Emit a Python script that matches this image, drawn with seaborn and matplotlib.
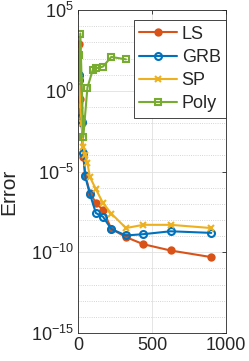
import numpy as np
import pandas as pd
import matplotlib
matplotlib.use("Agg")
import matplotlib.pyplot as plt
import seaborn as sns
from matplotlib.ticker import FixedLocator, NullFormatter

# Data (log10 of error)
ls_x = [4, 9, 16, 25, 36, 49, 81, 121, 169, 225, 324, 441, 625, 900]
ls_log = [2.9, 1.0, -0.5, -2.0, -4.07, -5.2, -6.3, -6.95, -7.37, -8.55, -9.06, -9.5, -9.89, -10.3]

grb_x = [4, 9, 16, 25, 36, 49, 81, 121, 169, 225, 324, 441, 625, 900]
grb_log = [1.0, 0.68, -1.67, -1.9, -3.86, -5.3, -6.4, -7.57, -7.8, -8.56, -8.96, -8.88, -8.7, -8.8]

sp_x = [4, 9, 16, 25, 36, 49, 64, 81, 121, 169, 225, 324, 441, 625, 900]
sp_log = [2.5, 0.8, -0.97, -2.0, -3.45, -4.0, -4.48, -5.34, -6.09, -6.95, -7.6, -8.5, -8.3, -8.3, -8.5]

poly_x = [4, 9, 16, 36, 64, 100, 121, 169, 225, 324]
poly_log = [2.2, 0.6, 3.55, -2.87, 0.2, 1.3, 1.4, 1.5, 2.1, 1.95]

labels = ["LS", "GRB", "SP", "Poly"]

sns.set_style("white")
plt.rcParams['font.family'] = ['Liberation Sans', 'DejaVu Sans']
plt.rcParams['mathtext.fontset'] = 'custom'
plt.rcParams['mathtext.rm'] = 'Liberation Sans'
plt.rcParams['mathtext.it'] = 'Liberation Sans:italic'
plt.rcParams['mathtext.bf'] = 'Liberation Sans:bold'

fig = plt.figure(figsize=(2.49, 3.61), dpi=100)
ax = fig.add_axes([0.313, 0.0776, 0.595, 0.8944])

colors = [(0.85, 0.325, 0.098), (0, 0.447, 0.741), (0.929, 0.694, 0.125), (0.466, 0.674, 0.188)]
series = [(ls_x, ls_log), (grb_x, grb_log), (sp_x, sp_log), (poly_x, poly_log)]
markers = ['o', 'o', 'x', 's']
mfc = [colors[0], 'none', colors[2], 'none']
msz = [4.5, 5, 5, 5]

for (xs, ys), lab, c, m, fc, ms in zip(series, labels, colors, markers, mfc, msz):
    df = pd.DataFrame({"x": xs, "y": np.power(10.0, ys)})
    sns.lineplot(data=df, x="x", y="y", ax=ax, color=c, marker=m, markersize=ms,
                 markerfacecolor=fc, markeredgecolor=c, markeredgewidth=1.5,
                 linewidth=1.5, label=lab, sort=False, estimator=None)

ax.set_yscale('log')
ax.set_xlim(0, 1000)
ax.set_ylim(1e-15, 1e5)
ax.xaxis.set_major_locator(FixedLocator([0, 500, 1000]))
ax.yaxis.set_major_locator(FixedLocator([1e-15, 1e-10, 1e-5, 1e0, 1e5]))
ax.yaxis.set_minor_locator(FixedLocator([10.0**k for k in range(-15, 6) if k % 5 != 0]))
ax.yaxis.set_minor_formatter(NullFormatter())
ax.grid(True, which='major', color='#e0e0e0', linewidth=0.6, linestyle='-')
ax.grid(True, which='minor', axis='y', color='#c8c8c8', linewidth=0.6, linestyle=':')
ax.set_axisbelow(True)

ax.tick_params(axis='both', which='major', direction='in', length=3, labelsize=13,
               top=True, right=True, colors='#262626', width=0.6, pad=3)
ax.tick_params(axis='y', which='minor', direction='in', length=0)
for sp in ax.spines.values():
    sp.set_color('#262626')
    sp.set_linewidth(0.6)
    sp.set_visible(True)
ax.set_xlabel("")
ax.set_ylabel("Error", fontsize=15, color='#262626')
ax.yaxis.set_label_coords(-0.40, 0.437)

leg = ax.legend(loc='upper right', bbox_to_anchor=(1.0, 0.969), fontsize=13, frameon=True,
                fancybox=False, edgecolor='#262626', framealpha=1, borderaxespad=0,
                handlelength=2.1, handletextpad=0.25, borderpad=0.3, labelspacing=0.35)
leg.get_frame().set_linewidth(0.6)

fig.savefig("out.png", dpi=100)
